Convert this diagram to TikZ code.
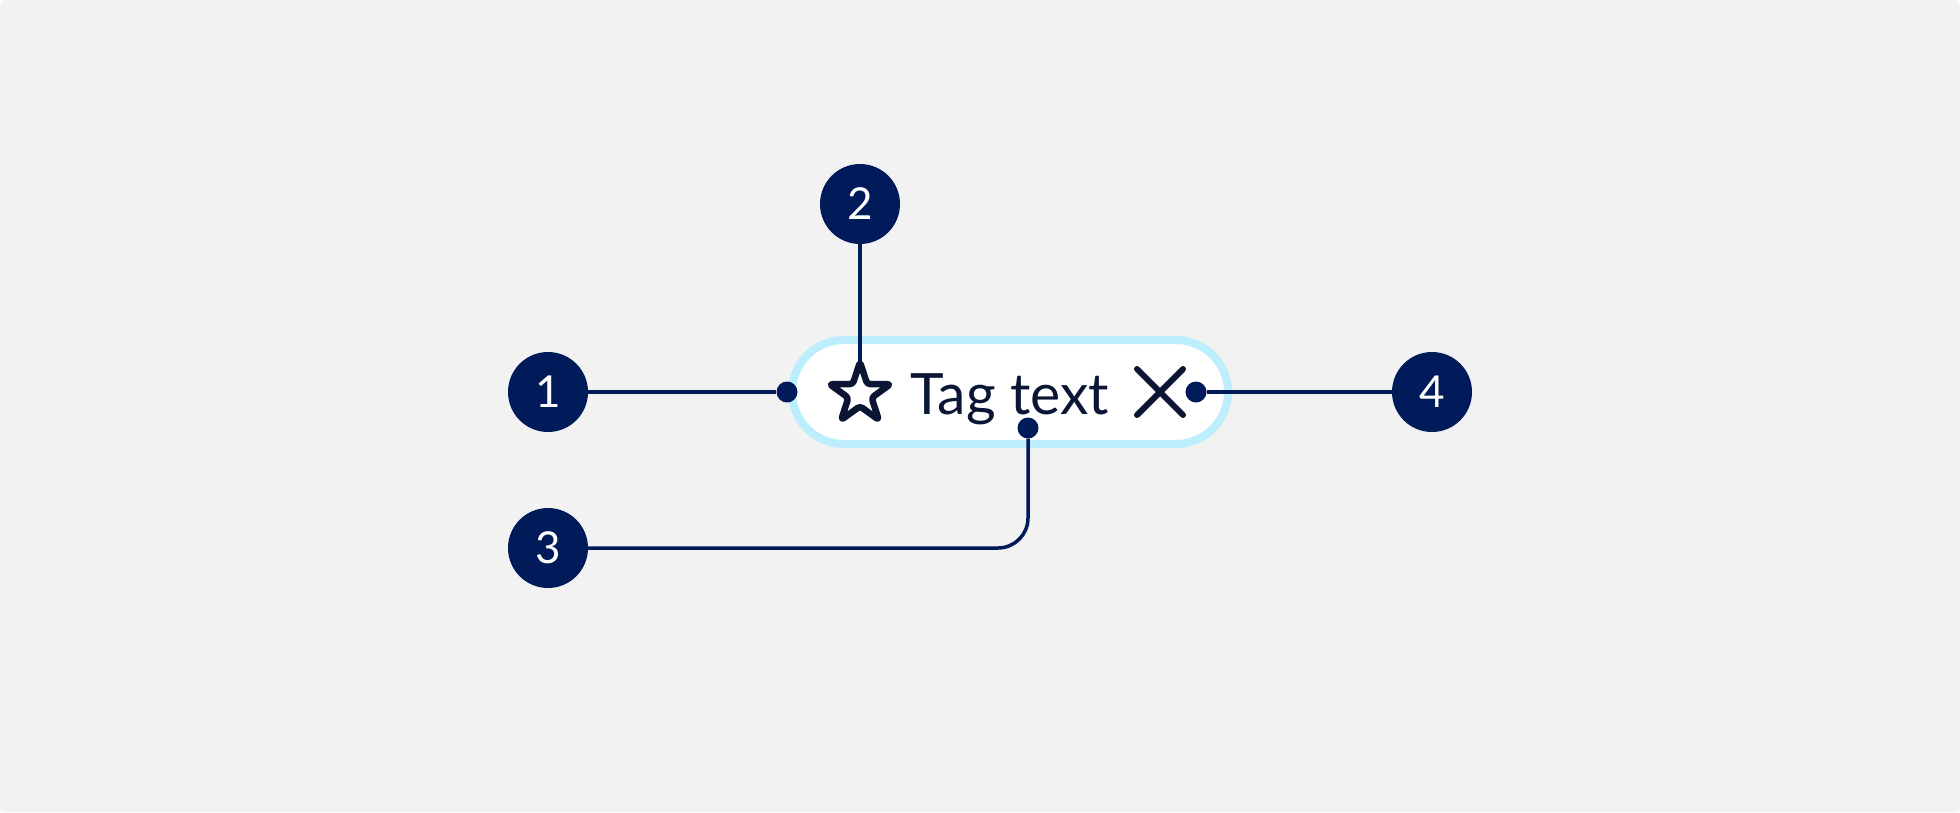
\documentclass[tikz,border=0pt]{standalone}
\usepackage{fontspec}
\setmainfont{Lato}
\usetikzlibrary{shapes.geometric,calc}
\definecolor{navy}{HTML}{001A5A}
\definecolor{ink}{HTML}{0A1633}
\definecolor{tagblue}{HTML}{BDEEFD}
\definecolor{bg}{HTML}{F2F2F2}
\tikzset{
  callout/.style={circle, fill=navy, text=white, minimum size=80pt, inner sep=0pt,
    font=\fontsize{44}{44}\selectfont},
  dot/.style={circle, fill=navy, minimum size=21pt, inner sep=0pt},
  leader/.style={draw=navy, line width=3.5pt},
}
\begin{document}
\begin{tikzpicture}[x=1pt,y=-1pt]
\useasboundingbox (0,0) rectangle (1960,812);
\fill[white] (0,0) rectangle (1960,812);
\fill[bg, rounded corners=6pt] (0,0) rectangle (1960,812);
% tag
\node[draw=tagblue, line width=8pt, fill=white, rounded corners=52pt,
  minimum width=436pt, minimum height=104pt, inner sep=0pt] (tag) at (1010,392) {};
\node[star, star points=5, star point ratio=2.618, minimum size=64pt, inner sep=0pt,
  draw=ink, line width=6.5pt, line join=round, rounded corners=3pt, outer sep=0pt] (star) at (860,394) {};
\node[anchor=base, text=ink, inner sep=0pt, font=\fontsize{57}{57}\selectfont] (label) at (1010,414) {Tag text};
\coordinate (xc) at (1160,392);
\draw[ink, line width=6pt, line cap=round] ($(xc)+(-23,-23)$) -- ($(xc)+(23,23)$)
  ($(xc)+(23,-23)$) -- ($(xc)+(-23,23)$);
% callouts
\node[callout] (c1) at (548,392) {1};
\node[callout] (c2) at (860,204) {2};
\node[callout] (c3) at (548,548) {3};
\node[callout] (c4) at (1432,392) {4};
% dots
\node[dot] (d1) at (787,392) {};
\node[dot] (d3) at (1028,428) {};
\node[dot] (d4) at (1196,392) {};
% leaders
\draw[leader] (c1.east) -- (d1.west);
\draw[leader] (c2.south) -- (star.north);
\draw[leader, rounded corners=30pt] (d3.south) |- (c3.east);
\draw[leader] (d4.east) -- (c4.west);
\end{tikzpicture}
\end{document}
